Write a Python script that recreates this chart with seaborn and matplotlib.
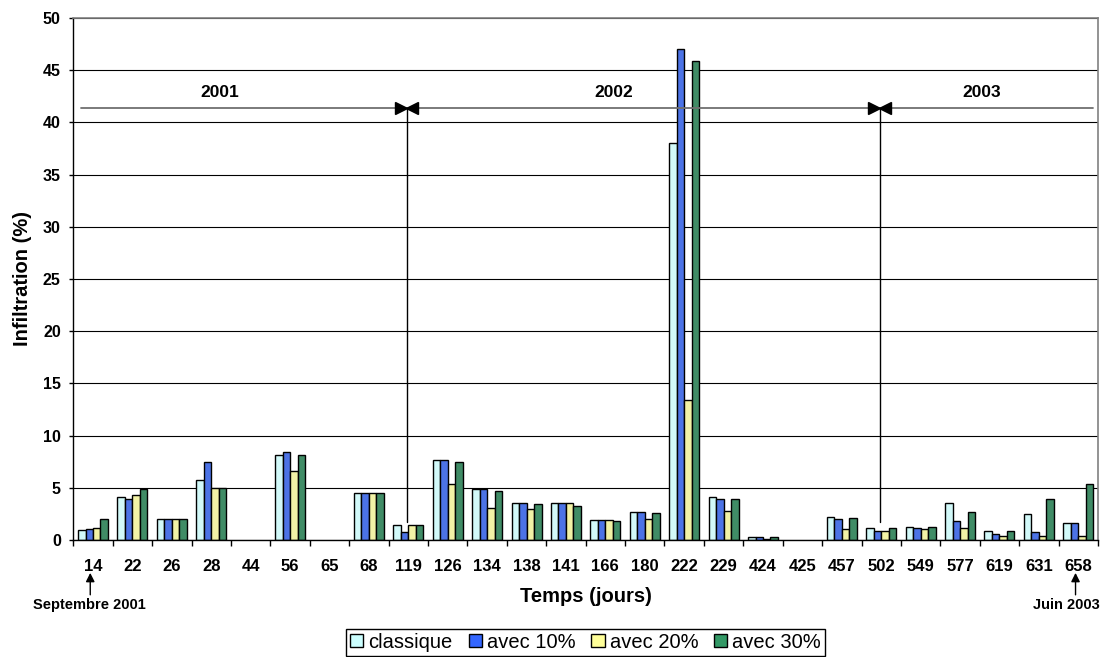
import numpy as np
import pandas as pd
import matplotlib
matplotlib.use("Agg")
import matplotlib.pyplot as plt
import matplotlib.patches as mpatches
import matplotlib.transforms as mtransforms
import seaborn as sns

# ── DATA ──────────────────────────────────────────────────────────────────────
DAYS = ["14", "22", "26", "28", "44", "56", "65", "68", "119", "126", "134",
        "138", "141", "166", "180", "222", "229", "424", "425", "457", "502",
        "549", "577", "619", "631", "658"]

CLASSIQUE = [0.96, 4.09, 2.0, 5.78, None, 8.17, None, 4.5, 1.47, 7.66, 4.86,
             3.58, 3.58, 1.88, 2.71, 38.0, 4.09, 0.26, None, 2.2, 1.18,
             1.28, 3.58, 0.89, 2.46, 1.6]
AVEC_10 = [1.08, 3.9, 2.0, 7.47, None, 8.4, None, 4.5, 0.73, 7.66, 4.86,
           3.58, 3.58, 1.88, 2.71, 47.0, 3.96, 0.26, None, 1.98, 0.86,
           1.18, 1.79, 0.57, 0.73, 1.6]
AVEC_20 = [1.18, 4.28, 2.0, 4.98, None, 6.64, None, 4.5, 1.47, 5.36, 3.07,
           2.94, 3.58, 1.88, 1.98, 13.4, 2.78, 0.1, None, 1.09, 0.86,
           1.09, 1.18, 0.35, 0.38, 0.38]
AVEC_30 = [1.98, 4.86, 2.0, 4.98, None, 8.17, None, 4.5, 1.47, 7.44, 4.66,
           3.48, 3.26, 1.79, 2.59, 45.9, 3.96, 0.26, None, 2.08, 1.18,
           1.28, 2.68, 0.89, 3.96, 5.36]

SERIES = ["classique", "avec 10%", "avec 20%", "avec 30%"]
COLORS = ["#CCFFFF", "#3366FF", "#FFFF99", "#339966"]

YEARS = ["2001", "2002", "2003"]
YEAR_BREAKS = ["119", "502"]          # day where a new year starts
START_LABEL = "Septembre 2001"
END_LABEL = "Juin 2003"
# ──────────────────────────────────────────────────────────────────────────────

sns.set_theme(style="white")
plt.rcParams["font.family"] = ["Liberation Sans", "DejaVu Sans"]
plt.rcParams.update({"text.color": "black", "axes.labelcolor": "black",
                     "xtick.color": "black", "ytick.color": "black"})

rows = []
for name, vals in zip(SERIES, [CLASSIQUE, AVEC_10, AVEC_20, AVEC_30]):
    for d, v in zip(DAYS, vals):
        rows.append({"Temps": d, "serie": name, "val": np.nan if v is None else v})
df = pd.DataFrame(rows)

fig = plt.figure(figsize=(11.05, 6.57), dpi=100)
ax = fig.add_axes([73.3 / 1105, 1 - 540 / 657, 1024.7 / 1105, 522 / 657])

sns.barplot(data=df, x="Temps", y="val", hue="serie", order=DAYS,
            hue_order=SERIES, palette=COLORS, edgecolor="black", linewidth=1,
            width=0.76, errorbar=None, legend=False, ax=ax)

# axes / grid
ax.set_xlim(-0.5, len(DAYS) - 0.5)
ax.set_ylim(0, 50)
ax.set_yticks(range(0, 51, 5))
ax.yaxis.grid(True, color="black", lw=0.8)
ax.set_axisbelow(True)
for s in ["top", "right"]:
    ax.spines[s].set_color("#808080")
    ax.spines[s].set_linewidth(1.2)
for s in ["left", "bottom"]:
    ax.spines[s].set_color("black")
    ax.spines[s].set_linewidth(1)

ax.set_xticks(range(len(DAYS)))
ax.set_xticklabels(DAYS, fontsize=12, fontweight="bold", color="black")
ax.set_xticks(np.arange(-0.5, len(DAYS)), minor=True)
ax.tick_params(axis="x", which="major", length=0, pad=14)
ax.tick_params(axis="x", which="minor", length=4.5, width=1, color="black",
               direction="out", bottom=True)
ax.tick_params(axis="y", length=3, width=1, color="black", direction="out",
               left=True, pad=6, labelcolor="black")
for lab in ax.get_yticklabels():
    lab.set_fontsize(11.5)
    lab.set_fontweight("bold")

ax.set_xlabel("Temps (jours)", fontsize=14.5, fontweight="bold", color="black")
ax.xaxis.set_label_coords(0.5, -0.09)
ax.set_ylabel("Infiltration (%)", fontsize=14.5, fontweight="bold", color="black")
ax.yaxis.set_label_coords(-0.04, 0.5)

# year periods
y_line = 41.4
ax.plot([-0.3, len(DAYS) - 0.63], [y_line, y_line], color="#707070", lw=1.3,
        zorder=3)
for d in YEAR_BREAKS:
    xb = DAYS.index(d) - 0.04
    ax.plot([xb, xb], [1.75, y_line], color="black", lw=1, zorder=3)
    ax.plot([xb - 0.145], [y_line], marker=">", ms=8, color="black", zorder=4)
    ax.plot([xb + 0.145], [y_line], marker="<", ms=8, color="black", zorder=4)

year_x = [3.21, 13.22, 22.56]
for yr, xx in zip(YEARS, year_x):
    ax.text(xx, 42.9, yr, ha="center", va="center", fontsize=12.5,
            fontweight="bold", color="black")

# start / end markers under the axis
trans = mtransforms.blended_transform_factory(ax.transData, ax.transAxes)
for d, lab, dx in [(DAYS[0], START_LABEL, -0.08), (DAYS[-1], END_LABEL, -0.3)]:
    xi = DAYS.index(d) - 0.07
    ax.annotate("", xy=(xi, -0.063), xytext=(xi, -0.105), xycoords=trans,
                textcoords=trans,
                arrowprops=dict(arrowstyle="-|>", color="black", lw=1,
                                mutation_scale=13, shrinkA=0, shrinkB=0))
    ax.text(xi + dx + 0.07, -0.125, lab, transform=trans, ha="center",
            va="center", fontsize=10.5, fontweight="bold", color="black")

# legend
handles = [mpatches.Patch(facecolor=c, edgecolor="black", lw=1, label=s)
           for s, c in zip(SERIES, COLORS)]
leg = ax.legend(handles=handles, loc="center", bbox_to_anchor=(0.5, -0.196),
                ncol=4, fontsize=14.5, frameon=True, fancybox=False,
                handlelength=0.65, handleheight=0.65, handletextpad=0.25,
                columnspacing=0.8, borderpad=0.2, borderaxespad=0)
leg.get_frame().set_edgecolor("black")
leg.get_frame().set_linewidth(1)
leg.get_frame().set_alpha(1)
for t in leg.get_texts():
    t.set_color("black")

fig.savefig("out.png", dpi=100)
